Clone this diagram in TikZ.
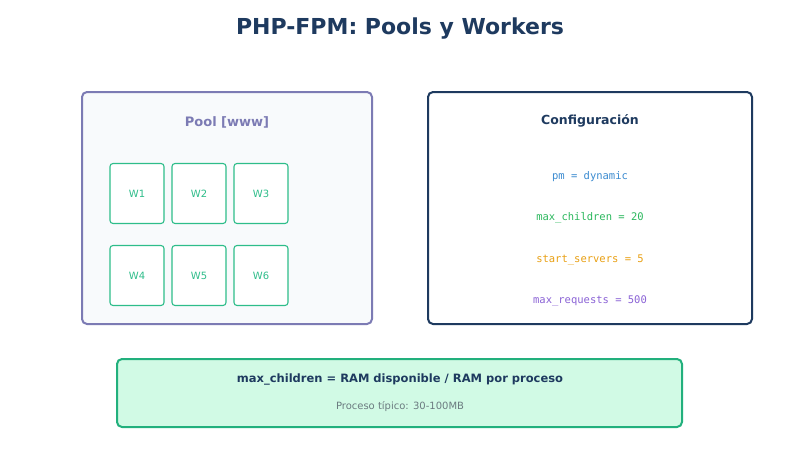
\documentclass[tikz,border=0pt]{standalone}
\usepackage{fontspec}
\setmainfont{DejaVu Sans}
\newfontfamily\monof{DejaVu Sans Mono}
\definecolor{navy}{HTML}{1E3A5F}
\definecolor{poolc}{HTML}{7C7BB4}
\definecolor{poolbg}{HTML}{F8FAFC}
\definecolor{wgreen}{HTML}{2EBD8A}
\definecolor{bgreen}{HTML}{22B07D}
\definecolor{mint}{HTML}{D1FAE5}
\definecolor{cblue}{HTML}{3B8BD0}
\definecolor{cgreen}{HTML}{2CB85E}
\definecolor{corange}{HTML}{E9A013}
\definecolor{cpurple}{HTML}{8B63D6}
\definecolor{gtext}{HTML}{6B7B80}
\begin{document}
\begin{tikzpicture}[x=1pt,y=-1pt,
  panel/.style={draw,line width=2pt,rounded corners=5pt},
  worker/.style={draw=wgreen,line width=1.1pt,fill=white,rounded corners=3pt,minimum width=54pt,minimum height=60pt,text=wgreen,font=\fontsize{10}{12}\selectfont},
  cfg/.style={font=\monof\fontsize{10.5}{12}\selectfont}]
\useasboundingbox[fill=white] (0,0) rectangle (800,450);
\node[font=\bfseries\fontsize{22}{26}\selectfont,text=navy] (title) at (400,29) {PHP-FPM: Pools y Workers};
\draw[panel,draw=poolc,fill=poolbg] (82,92) rectangle (372,324);
\node[font=\bfseries\fontsize{13}{15}\selectfont,text=poolc] (pool) at (227,122) {Pool [www]};
\node[worker] (w1) at (137,193.5) {W1};
\node[worker] (w2) at (199,193.5) {W2};
\node[worker] (w3) at (261,193.5) {W3};
\node[worker] (w4) at (137,275.5) {W4};
\node[worker] (w5) at (199,275.5) {W5};
\node[worker] (w6) at (261,275.5) {W6};
\draw[panel,draw=navy,fill=white] (428,92) rectangle (752,324);
\node[font=\bfseries\fontsize{12.5}{15}\selectfont,text=navy] (conf) at (590,121) {Configuración};
\node[cfg,text=cblue] (c1) at (590,177) {pm = dynamic};
\node[cfg,text=cgreen] (c2) at (590,218) {max\_children = 20};
\node[cfg,text=corange] (c3) at (590,260) {start\_servers = 5};
\node[cfg,text=cpurple] (c4) at (590,301) {max\_requests = 500};
\draw[panel,draw=bgreen,fill=mint] (117,359) rectangle (682,427);
\node[font=\bfseries\fontsize{11.5}{14}\selectfont,text=navy] (f) at (400,379) {max\_children = RAM disponible / RAM por proceso};
\node[font=\fontsize{10}{12}\selectfont,text=gtext] (p) at (400,407) {Proceso típico: 30-100MB};
\end{tikzpicture}
\end{document}
